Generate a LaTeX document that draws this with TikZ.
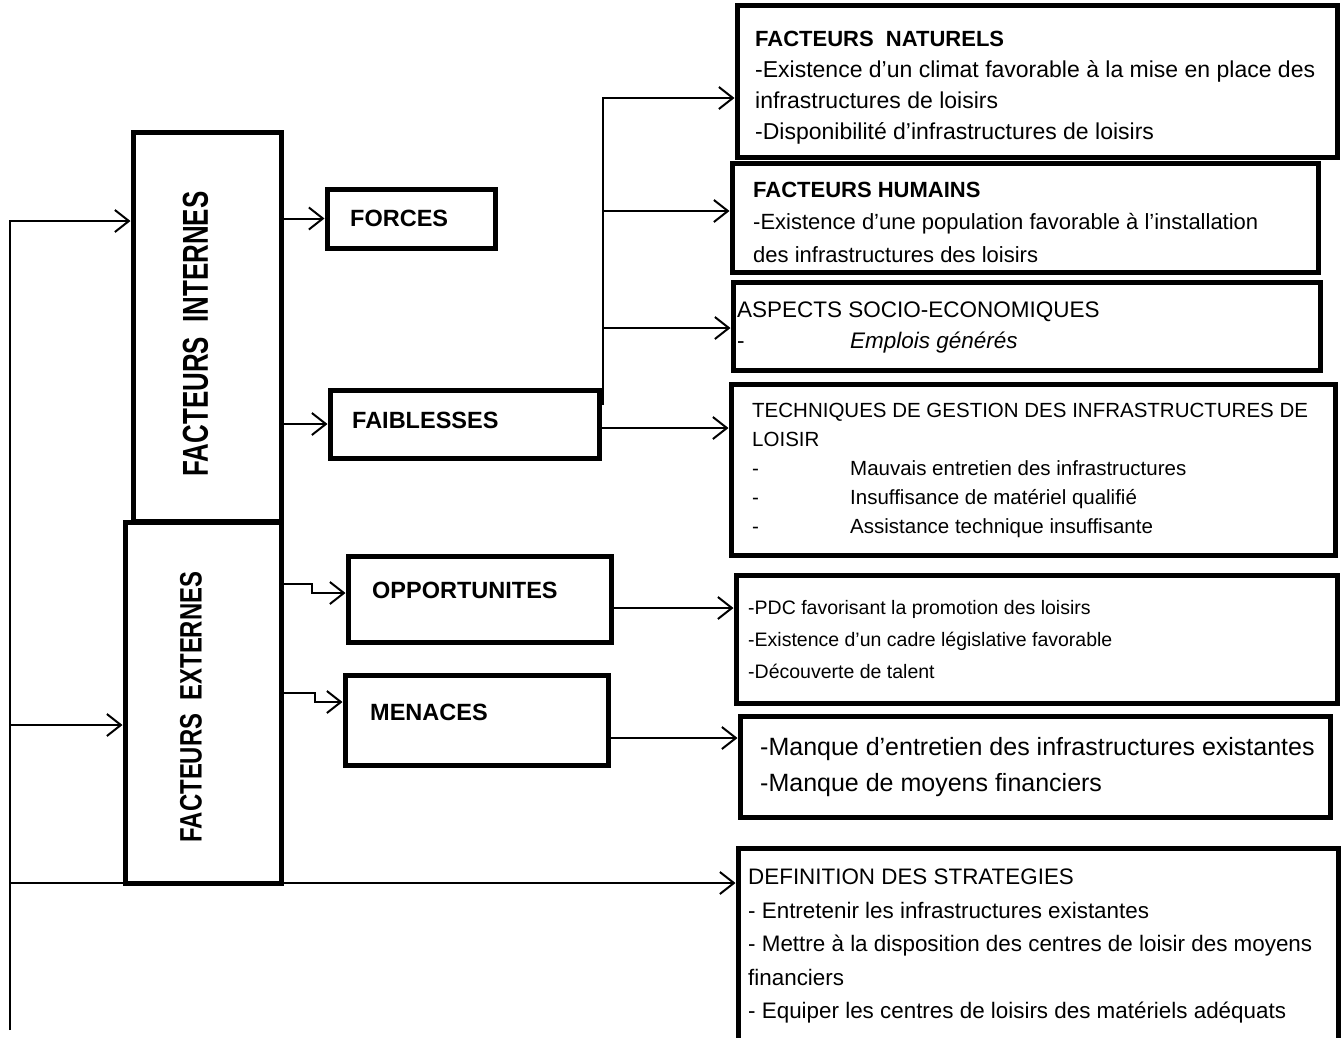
\documentclass[tikz,border=0pt]{standalone}
\usepackage{fontspec}
\setmainfont{Liberation Sans}
\usetikzlibrary{arrows.meta}
\tikzset{
  box/.style={draw, line width=5pt, inner sep=0pt},
  conn/.style={draw, line width=2pt},
  arr/.style={-{Straight Barb[length=14pt,width=22pt]}},
  txt/.style={inner sep=0pt, anchor=west, align=left},
  lbl/.style={inner sep=0pt, anchor=west, font=\fontsize{23.5}{28}\selectfont\bfseries},
}
\begin{document}
\begin{tikzpicture}[x=1pt,y=-1pt]
\fill[white] (0,0) rectangle (1343,1037);
\useasboundingbox (0,0) rectangle (1343,1037);

% left boxes
\node[box, minimum width=148pt, minimum height=389pt] (intB) at (207,326.5) {};
\node[box, minimum width=156pt, minimum height=361pt] (extB) at (203,702.5) {};
\draw[line width=5pt] ([xshift=-2.5pt,yshift=2.5pt]intB.south east) -- ++(0,16);
\node[inner sep=0pt, rotate=90] (intT) at (195.5,334)
  {\scalebox{0.72}[1]{\fontsize{36}{40}\selectfont\bfseries FACTEURS\ \ INTERNES}};
\node[inner sep=0pt, rotate=90] (extT) at (191,707)
  {\scalebox{0.77}[1]{\fontsize{31}{35}\selectfont\bfseries FACTEURS\ \ EXTERNES}};

% middle boxes
\node[box, minimum width=168pt, minimum height=59pt] (forB) at (411,218.5) {};
\node[box, minimum width=269pt, minimum height=68pt] (faiB) at (464.5,424) {};
\node[box, minimum width=263pt, minimum height=86pt] (oppB) at (479.5,599) {};
\node[box, minimum width=263pt, minimum height=90pt] (menB) at (476.5,720) {};
\node[lbl] (forT) at (350,218) {FORCES};
\node[lbl] (faiT) at (352,420) {FAIBLESSES};
\node[lbl] (oppT) at (372,590) {OPPORTUNITES};
\node[lbl] (menT) at (370,712) {MENACES};

% right boxes
\node[box, minimum width=600pt, minimum height=152pt] (natB) at (1037,81) {};
\node[box, minimum width=586pt, minimum height=109pt] (humB) at (1025,217.5) {};
\node[box, minimum width=587pt, minimum height=88pt] (aspB) at (1026.5,326) {};
\node[box, minimum width=604pt, minimum height=171pt] (tecB) at (1033,469.5) {};
\node[box, minimum width=601pt, minimum height=128pt] (oppR) at (1036.5,639) {};
\node[box, minimum width=590pt, minimum height=101pt] (menR) at (1035,766.5) {};
\node[box, minimum width=600pt, minimum height=197pt] (defR) at (1038,946.5) {};

\node[txt, font=\fontsize{23}{31}\selectfont] (natT) at (755,88)
  {\fontsize{22}{33}\selectfont\bfseries FACTEURS\ \ NATURELS\\
   -Existence d’un climat favorable à la mise en place des\\
   infrastructures de loisirs\\
   -Disponibilité d’infrastructures de loisirs};
\node[txt, font=\fontsize{22}{32.5}\selectfont] (humT) at (753,222)
  {\bfseries FACTEURS HUMAINS\\
   -Existence d’une population favorable à l’installation\\
   des infrastructures des loisirs};
\node[txt, font=\fontsize{22.5}{31}\selectfont] (aspT) at (737,327)
  {ASPECTS SOCIO-ECONOMIQUES\\
   \makebox[113pt][l]{-}\itshape Emplois générés};
\node[txt, font=\fontsize{20.5}{29}\selectfont] (tecT) at (752,470)
  {TECHNIQUES DE GESTION DES INFRASTRUCTURES DE\\
   LOISIR\\
   \makebox[98pt][l]{-}Mauvais entretien des infrastructures\\
   \makebox[98pt][l]{-}Insuffisance de matériel qualifié\\
   \makebox[98pt][l]{-}Assistance technique insuffisante};
\node[txt, font=\fontsize{19.5}{32}\selectfont] (oppRT) at (748,639.5)
  {-PDC favorisant la promotion des loisirs\\
   -Existence d’un cadre législative favorable\\
   -Découverte de talent};
\node[txt, font=\fontsize{25}{36}\selectfont] (menRT) at (760,767)
  {-Manque d’entretien des infrastructures existantes\\
   -Manque de moyens financiers};
\node[txt, font=\fontsize{22.4}{33.5}\selectfont] (defT) at (748,946)
  {DEFINITION DES STRATEGIES\\
   - Entretenir les infrastructures existantes\\
   - Mettre à la disposition des centres de loisir des moyens\\
   financiers\\
   - Equiper les centres de loisirs des matériels adéquats};

% coordinates
\coordinate (tTop) at (10,221);
\coordinate (tBot) at (10,1030);
\coordinate (tExt) at (10,725);
\coordinate (tDef) at (10,883);
\coordinate (bB) at (603,405);
\coordinate (bT) at (603,98);
\coordinate (bH) at (603,211);
\coordinate (bA) at (603,328);
\coordinate (yFT) at (0,428);
\coordinate (o1) at (312,584);
\coordinate (o2) at (312,593);
\coordinate (m1) at (315,693);
\coordinate (m2) at (315,702);
\coordinate (yOR) at (0,608);
\coordinate (yMR) at (0,738);

% connectors
\draw[conn,arr] (tBot) -- (tTop) -- (intB.west |- tTop);
\draw[conn,arr] (tExt) -- (extB.west |- tExt);
\draw[conn,arr] (tDef) -- (defR.west |- tDef);
\draw[conn,arr] (intB.east |- forB.west) -- (forB.west);
\draw[conn,arr] (intB.east |- faiB.west) -- (faiB.west);
\draw[conn,arr] (extB.east |- o1) -- (o1) -- (o2) -- (oppB.west |- o2);
\draw[conn,arr] (extB.east |- m1) -- (m1) -- (m2) -- (menB.west |- m2);
\draw[conn,arr] (bB) -- (bT) -- (natB.west |- bT);
\draw[conn,arr] (bH) -- (humB.west |- bH);
\draw[conn,arr] (bA) -- (aspB.west |- bA);
\draw[conn,arr] (faiB.east |- yFT) -- (tecB.west |- yFT);
\draw[conn,arr] (oppB.east |- yOR) -- (oppR.west |- yOR);
\draw[conn,arr] (menB.east |- yMR) -- (menR.west |- yMR);
\end{tikzpicture}
\end{document}
